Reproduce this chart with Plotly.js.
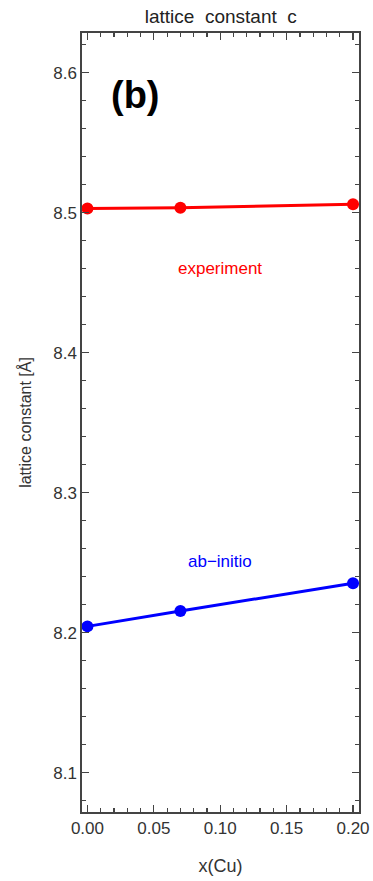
<!DOCTYPE html>
<html>
<head>
<meta charset="utf-8">
<script src="https://cdn.plot.ly/plotly-3.0.1.min.js"></script>
<style>
  html, body { margin: 0; padding: 0; background: #fff; }
  #chart { width: 373px; height: 881px; }
</style>
</head>
<body>
<div id="chart"></div>
<script>
// Cu concentration x(Cu)
const xCu = [0.0, 0.07, 0.2];
// lattice constant c in Å
const cExperiment = [8.503, 8.5035, 8.506];
const cAbInitio = [8.2045, 8.2155, 8.2353];

const xTicks = [0.0, 0.05, 0.1, 0.15, 0.2];
const xTickText = ['0.00', '0.05', '0.10', '0.15', '0.20'];
const yTicks = [8.1, 8.2, 8.3, 8.4, 8.5, 8.6];
const yTickText = ['8.1', '8.2', '8.3', '8.4', '8.5', '8.6'];

const FONT = 'Liberation Sans, Arial, Helvetica, sans-serif';
const AXIS_COLOR = '#444';

const traces = [
  {
    x: xCu, y: cExperiment, type: 'scatter', mode: 'lines+markers',
    line: { color: '#ff0000', width: 3 },
    marker: { color: '#ff0000', size: 12 },
    hoverinfo: 'skip'
  },
  {
    x: xCu, y: cAbInitio, type: 'scatter', mode: 'lines+markers',
    line: { color: '#0000ff', width: 3 },
    marker: { color: '#0000ff', size: 12 },
    hoverinfo: 'skip'
  }
];

const axisCommon = {
  showgrid: false, zeroline: false,
  showline: true, linecolor: AXIS_COLOR, linewidth: 1.6,
  mirror: 'allticks',
  ticks: 'inside', ticklen: 7, tickwidth: 1.2, tickcolor: AXIS_COLOR,
  tickfont: { family: FONT, size: 17, color: '#333' },
  minor: { ticks: 'inside', ticklen: 4, tickwidth: 1.2, tickcolor: AXIS_COLOR }
};

const layout = {
  width: 373, height: 881,
  margin: { l: 82, r: 14, t: 33, b: 69 },
  paper_bgcolor: '#fff', plot_bgcolor: '#fff',
  showlegend: false,
  title: {
    text: 'lattice\u00a0 constant\u00a0 c',
    font: { family: FONT, size: 19, color: '#222' },
    x: 0.592, xanchor: 'center', y: 0.981, yanchor: 'middle'
  },
  xaxis: Object.assign({}, axisCommon, {
    range: [-0.0041, 0.2045],
    tickmode: 'array', tickvals: xTicks, ticktext: xTickText,
    minor: Object.assign({}, axisCommon.minor, { dtick: 0.01, tick0: 0 }),
    title: { text: 'x(Cu)', font: { family: FONT, size: 18, color: '#333' }, standoff: 22 }
  }),
  yaxis: Object.assign({}, axisCommon, {
    range: [8.0719, 8.6284],
    tickmode: 'array', tickvals: yTicks, ticktext: yTickText,
    minor: Object.assign({}, axisCommon.minor, { dtick: 0.02, tick0: 8.0 }),
    title: { text: 'lattice constant [Å]', font: { family: FONT, size: 16, color: '#333' }, standoff: 18 }
  }),
  annotations: [
    {
      x: 0.036, y: 8.584, xref: 'x', yref: 'y', text: '<b>(b)</b>',
      showarrow: false, font: { family: FONT, size: 38, color: '#000' }
    },
    {
      x: 0.1, y: 8.4605, xref: 'x', yref: 'y', text: 'experiment',
      showarrow: false, font: { family: FONT, size: 17, color: '#ff0000' }
    },
    {
      x: 0.1, y: 8.2505, xref: 'x', yref: 'y', text: 'ab\u2212initio',
      showarrow: false, font: { family: FONT, size: 17, color: '#0000ff' }
    }
  ]
};

Plotly.newPlot('chart', traces, layout, { displayModeBar: false, staticPlot: true });
</script>
</body>
</html>
